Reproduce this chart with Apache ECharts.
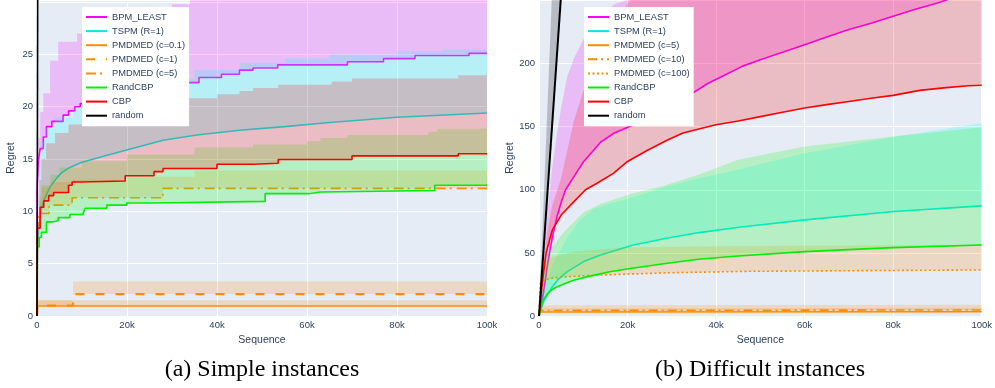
<!DOCTYPE html>
<html><head><meta charset="utf-8">
<script src="https://cdn.jsdelivr.net/npm/echarts@6/dist/echarts.min.js"></script>
<style>html,body{margin:0;padding:0;background:#fff}#c{width:995px;height:388px}</style>
</head><body><div id="c"></div><script>
// ---------- (a) Simple instances ----------
const aNames = ['BPM_LEAST','TSPM (R=1)','PMDMED (c=0.1)','PMDMED (c=1)','PMDMED (c=5)','RandCBP','CBP','random'];
const aBpm = [[0,0],[50,12.5],[300,14.9],[700,16],[1400,17.1],[2100,18.1],[3300,18.6],[5800,19.2],[7000,19.6],[8400,20.0],[9600,20.3],[12000,20.7],[16000,21.1],[20000,21.5],[25000,21.9],[30000,22.3],[36000,22.8],[41000,23.1],[45000,23.5],[48000,23.7],[53500,24.0],[69000,24.3],[77000,24.6],[84000,24.9],[96000,25.1],[100000,25.1]];
const aBpmUp = [[0,0],[50,12.5],[300,17],[700,19.5],[1400,21.3],[2900,24.4],[4700,26.2],[8900,27],[10000,27.4],[15000,28.3],[22000,29.1],[30000,29.8],[34000,30.5],[100000,33]];
const aTspm = [[0,0],[100,6.5],[400,8.5],[1000,10.2],[1500,11],[2200,11.7],[3000,12.4],[4400,13.2],[5500,13.7],[7300,14.2],[10000,14.7],[15000,15.3],[22000,16.1],[28000,16.8],[35500,17.3],[45000,17.75],[55000,18.1],[65000,18.5],[80000,19.0],[100000,19.4]];
const aTspmUp = [[0,0],[100,9],[500,15],[1000,16.8],[2000,18],[4000,19],[8000,19.9],[12000,20.8],[18000,21.8],[25000,22.7],[35000,23.5],[45000,24.2],[55000,24.6],[65000,25.0],[80000,25.3],[90000,25.5],[100000,25.8]];
const aPm01 = [[0,0],[100,0.95],[100000,0.95]];
const aPm01Up = [[0,0],[100,1.5],[100000,1.5]];
const aPm1 = [[0,0],[100,1.0],[8000,2.1],[100000,2.1]];
const aPm1Up = [[0,0],[100,1.5],[8000,3.3],[100000,3.3]];
const aPm5 = [[0,0],[100,8],[300,9.8],[2700,10.6],[7800,11.3],[28000,12.2],[100000,12.2]];
const aPm5Up = [[0,0],[100,9.5],[500,11.5],[1000,12.3],[3000,12.8],[8000,13.0],[20000,13.3],[35000,13.9],[100000,13.9]];
const aRandCbp = [[0,0],[50,6.6],[500,7.5],[1000,8.0],[2100,9.0],[3600,9.1],[4700,9.4],[7300,9.7],[10300,9.9],[10700,10.3],[15500,10.6],[19900,10.8],[25000,10.95],[50700,11.7],[60700,11.85],[63000,12.0],[88400,12.5],[100000,12.5]];
const aRandCbpUp = [[0,0],[50,8],[500,11],[1000,12.5],[3000,13.5],[5000,14.2],[10000,14.8],[20000,15.4],[35000,16.1],[48000,16.4],[60000,16.7],[63000,17.0],[69000,17.3],[87000,17.6],[89000,17.9],[100000,18.0]];
const aCbp = [[0,0],[100,8.4],[700,10.4],[1500,11],[2600,11.5],[3700,11.8],[7000,12.5],[7800,12.8],[9600,12.9],[19600,13.4],[26000,13.8],[28000,14.1],[40000,14.5],[48000,14.6],[53600,14.95],[70000,15.3],[93600,15.5],[100000,15.5]];
const aCbpUp = [[0,0],[100,9],[500,13],[1000,15],[2000,16.5],[4000,17.5],[7000,18.3],[10000,19],[15000,19.7],[20000,20.2],[30000,20.8],[40000,21.2],[45000,21.5],[48000,21.8],[53600,22.1],[65500,22.4],[70000,22.7],[93600,23.0],[100000,23.0]];
const aRandom = [[0,0],[100000,20000]];
const aRandomUp = [[0,0],[100000,30000]];

// ---------- (b) Difficult instances ----------
const bNames = ['BPM_LEAST','TSPM (R=1)','PMDMED (c=5)','PMDMED (c=10)','PMDMED (c=100)','RandCBP','CBP','random'];
const bBpm = [[0,0],[1000,18],[2000,42],[3000,62],[4000,78],[5000,90],[6000,100],[8000,111],[10000,122],[12000,130],[14000,138],[17000,145],[21000,151],[25000,158],[30000,167],[34000,175],[38000,184],[42000,191],[46000,198],[50000,203],[55000,209],[60000,215],[65000,221],[70000,227],[75000,232],[80000,237.5],[85000,243],[90000,248],[95000,254],[100000,258]];
const bBpmUp = [[0,0],[1000,45],[2000,85],[3000,118],[4000,143],[5000,165],[6400,190],[8000,205],[10000,219],[12000,229],[14600,240],[17000,247],[20600,251],[30000,270],[100000,420]];
const bTspm = [[0,0],[500,6],[1000,11],[1900,16.7],[3000,23],[4200,28.6],[6400,35.2],[10100,43.1],[13900,48.4],[21300,56.3],[28800,61.6],[36200,66.1],[45200,70.3],[60100,76.2],[80200,82.8],[100000,87.3]];
const bTspmUp = [[0,0],[1000,20],[3000,40],[6000,60],[9000,75],[12400,85],[16000,89],[20000,93],[28800,102.6],[36000,109],[45000,116],[60000,129],[80000,141.8],[100000,152.9]];
const bPm5 = [[0,0],[300,3.2],[100000,3.4]];
const bPm5Up = [[0,0],[300,6],[100000,6.5]];
const bPm10 = [[0,0],[300,4.4],[100000,4.8]];
const bPm10Up = [[0,0],[300,8.5],[100000,9]];
const bPm100 = [[0,0],[300,26],[1200,28.6],[3000,30],[6400,31.2],[14000,32.5],[29000,34.2],[47000,35.4],[100000,36.5]];
const bPm100Up = [[0,0],[300,36],[1000,42],[3000,47],[8000,51],[20000,54.5],[45000,55.5],[100000,56.5]];
const bRandCbp = [[0,0],[500,7],[1000,13],[2000,18],[3000,21],[4000,23],[6000,26],[8000,28.5],[11000,31.2],[16000,35],[21000,37.8],[29000,41.8],[36000,45],[45000,47.5],[60000,51],[80000,54.2],[100000,56.3]];
const bRandCbpUp = [[0,0],[500,35],[1200,45],[3000,55],[6000,68],[10000,82],[14000,89],[21000,97],[28000,103],[36000,112],[45000,123.8],[60000,134.4],[80000,142.3],[100000,149.5]];
const bCbp = [[0,0],[800,28],[1600,50],[3000,68],[5000,80],[8000,91],[10500,100],[13000,105],[16800,113],[19800,122],[24300,131],[28800,139],[32500,145],[40000,151.5],[45000,154.5],[50000,158],[55000,161.5],[60000,164.8],[65000,167.5],[70000,170],[75000,172.5],[80000,174.8],[86000,178.8],[92000,181],[97000,182.5],[100000,182.8]];
const bCbpUp = [[0,0],[1000,40],[2000,70],[3000,88],[4000,98],[4900,108],[6000,125],[7900,155],[10000,178],[12000,195],[14000,210],[17000,230],[20000,248],[22000,256],[100000,500]];
const bRandom = [[0,0],[100000,5100]];
const bRandomUp = [[0,0],[100000,8700]];

const xTicks = [0,20000,40000,60000,80000,100000];
const captions = ['(a) Simple instances','(b) Difficult instances'];

// ---------- styling ----------
const FONT = '"Liberation Sans", Arial, sans-serif';
const TXT = '#2a3f5f';
const C = {mag:'#ff00ff', cyan:'#00e8e8', org:'#ff8c00', grn:'#00ee00', red:'#ff0000', blk:'#000000'};
const F = {mag:'rgba(255,0,255,0.2)', cyan:'rgba(0,255,255,0.2)', org:'rgba(255,140,0,0.2)', grn:'rgba(0,255,0,0.2)', red:'rgba(255,0,0,0.2)', blk:'rgba(0,0,0,0.2)'};
const PREFIX = ['a:', 'b:'];

function stepify(arr){
  const out=[];
  for(let i=0;i<arr.length;i++){
    out.push(arr[i]);
    if(i+1<arr.length) out.push([arr[i+1][0], arr[i][1]]);
  }
  return out;
}

const aDefs = [
  {name:aNames[0], line:aBpm, up:aBpmUp, c:'mag', step:true, stepUp:true},
  {name:aNames[1], line:aTspm, up:aTspmUp, c:'cyan', step:false, stepUp:true},
  {name:aNames[2], line:aPm01, up:aPm01Up, c:'org', step:true, stepUp:true},
  {name:aNames[3], line:aPm1, up:aPm1Up, c:'org', step:true, stepUp:true, dash:[9,11], lw:2.2},
  {name:aNames[4], line:aPm5, up:aPm5Up, c:'org', step:true, stepUp:true, dash:[10,4,2,5]},
  {name:aNames[5], line:aRandCbp, up:aRandCbpUp, c:'grn', step:true, stepUp:true},
  {name:aNames[6], line:aCbp, up:aCbpUp, c:'red', step:true, stepUp:true},
  {name:aNames[7], line:aRandom, up:aRandomUp, c:'blk', step:false, stepUp:false}
];
const bDefs = [
  {name:bNames[0], line:bBpm, up:bBpmUp, c:'mag'},
  {name:bNames[1], line:bTspm, up:bTspmUp, c:'cyan'},
  {name:bNames[2], line:bPm5, up:bPm5Up, c:'org'},
  {name:bNames[3], line:bPm10, up:bPm10Up, c:'org', dash:[9,4,2,4]},
  {name:bNames[4], line:bPm100, up:bPm100Up, c:'org', dash:[2,2.5]},
  {name:bNames[5], line:bRandCbp, up:bRandCbpUp, c:'grn'},
  {name:bNames[6], line:bCbp, up:bCbpUp, c:'red'},
  {name:bNames[7], line:bRandom, up:bRandomUp, c:'blk', lw:2}
];

const series = [];
function build(defs, gi){
  defs.forEach((d, i) => {
    const up = d.stepUp ? stepify(d.up) : d.up;
    const lo = d.step ? stepify(d.line) : d.line;
    series.push({
      type:'custom', name:PREFIX[gi]+d.name+' band', xAxisIndex:gi, yAxisIndex:gi,
      coordinateSystem:'cartesian2d', clip:true, silent:true, z:2+2*i,
      data:[[0,0]],
      renderItem:function(params, api){
        const pts = up.concat(lo.slice().reverse()).map(p => api.coord(p));
        return {type:'polygon', shape:{points:pts}, style:{fill:F[d.c], stroke:null}};
      }
    });
    series.push({
      type:'line', name:PREFIX[gi]+d.name, xAxisIndex:gi, yAxisIndex:gi, data:d.line,
      step: d.step ? 'end' : false, symbol:'none', showSymbol:false, z:3+2*i,
      lineStyle:{color:C[d.c], width:d.lw || 1.6, type:d.dash || 'solid'},
      itemStyle:{color:C[d.c]}, emphasis:{disabled:true}, silent:true
    });
  });
}
build(aDefs, 0);
build(bDefs, 1);

function xAxis(gi){
  return {type:'value', gridIndex:gi, min:0, max:100000, interval:20000,
    axisLine:{show:false}, axisTick:{show:false},
    splitLine:{lineStyle:{color:'#ffffff', width:1}},
    axisLabel:{color:TXT, fontSize:9.5, fontFamily:FONT, margin:4,
      formatter:v => xTicks.indexOf(v) < 0 ? '' : (v === 0 ? '0' : (v/1000)+'k')},
    name:'Sequence', nameLocation:'middle', nameGap:19,
    nameTextStyle:{color:TXT, fontSize:10.5, fontFamily:FONT}};
}
function yAxis(gi, max, interval, gap){
  return {type:'value', gridIndex:gi, min:0, max:max, interval:interval,
    axisLine:{show:false}, axisTick:{show:false},
    splitLine:{lineStyle:{color:'#ffffff', width:1}},
    axisLabel:{color:TXT, fontSize:9.5, fontFamily:FONT, margin:4,
      formatter:v => (v > max - interval*0.5 ? '' : String(v))},
    name:'Regret', nameLocation:'middle', nameGap:gap, nameRotate:90,
    nameTextStyle:{color:TXT, fontSize:10.5, fontFamily:FONT}};
}
function legend(left, names, gi){
  return {left:left, top:7, orient:'vertical', data:names.map(n => PREFIX[gi]+n), selectedMode:false,
    formatter:n => n.slice(2),
    itemWidth:21, itemHeight:11, itemGap:3.1, padding:[4.5,4,5,3],
    backgroundColor:'#ffffff', z:50,
    itemStyle:{opacity:0},
    textStyle:{color:TXT, fontSize:9.3, fontFamily:FONT, lineHeight:11}};
}

const chart = echarts.init(document.getElementById('c'), null, {renderer:'canvas'});
chart.setOption({
  animation:false,
  backgroundColor:'#ffffff',
  grid:[
    {left:37, top:0, width:450, height:316, show:true, backgroundColor:'#E5ECF6', borderWidth:0},
    {left:539, top:0, width:446, height:316, show:true, backgroundColor:'#E5ECF6', borderWidth:0}
  ],
  xAxis:[xAxis(0), xAxis(1)],
  yAxis:[yAxis(0, 30.2, 5, 20), yAxis(1, 250.4, 50, 23)],
  legend:[legend(82, aNames, 0), legend(584, bNames, 1)],
  graphic:[
    {type:'text', x:262, y:370, style:{text:captions[0], fontSize:24, fontFamily:'"Liberation Serif", "Times New Roman", serif', fill:'#000', align:'center', verticalAlign:'middle'}},
    {type:'text', x:760, y:370, style:{text:captions[1], fontSize:24, fontFamily:'"Liberation Serif", "Times New Roman", serif', fill:'#000', align:'center', verticalAlign:'middle'}}
  ],
  series:series
});
</script></body></html>
